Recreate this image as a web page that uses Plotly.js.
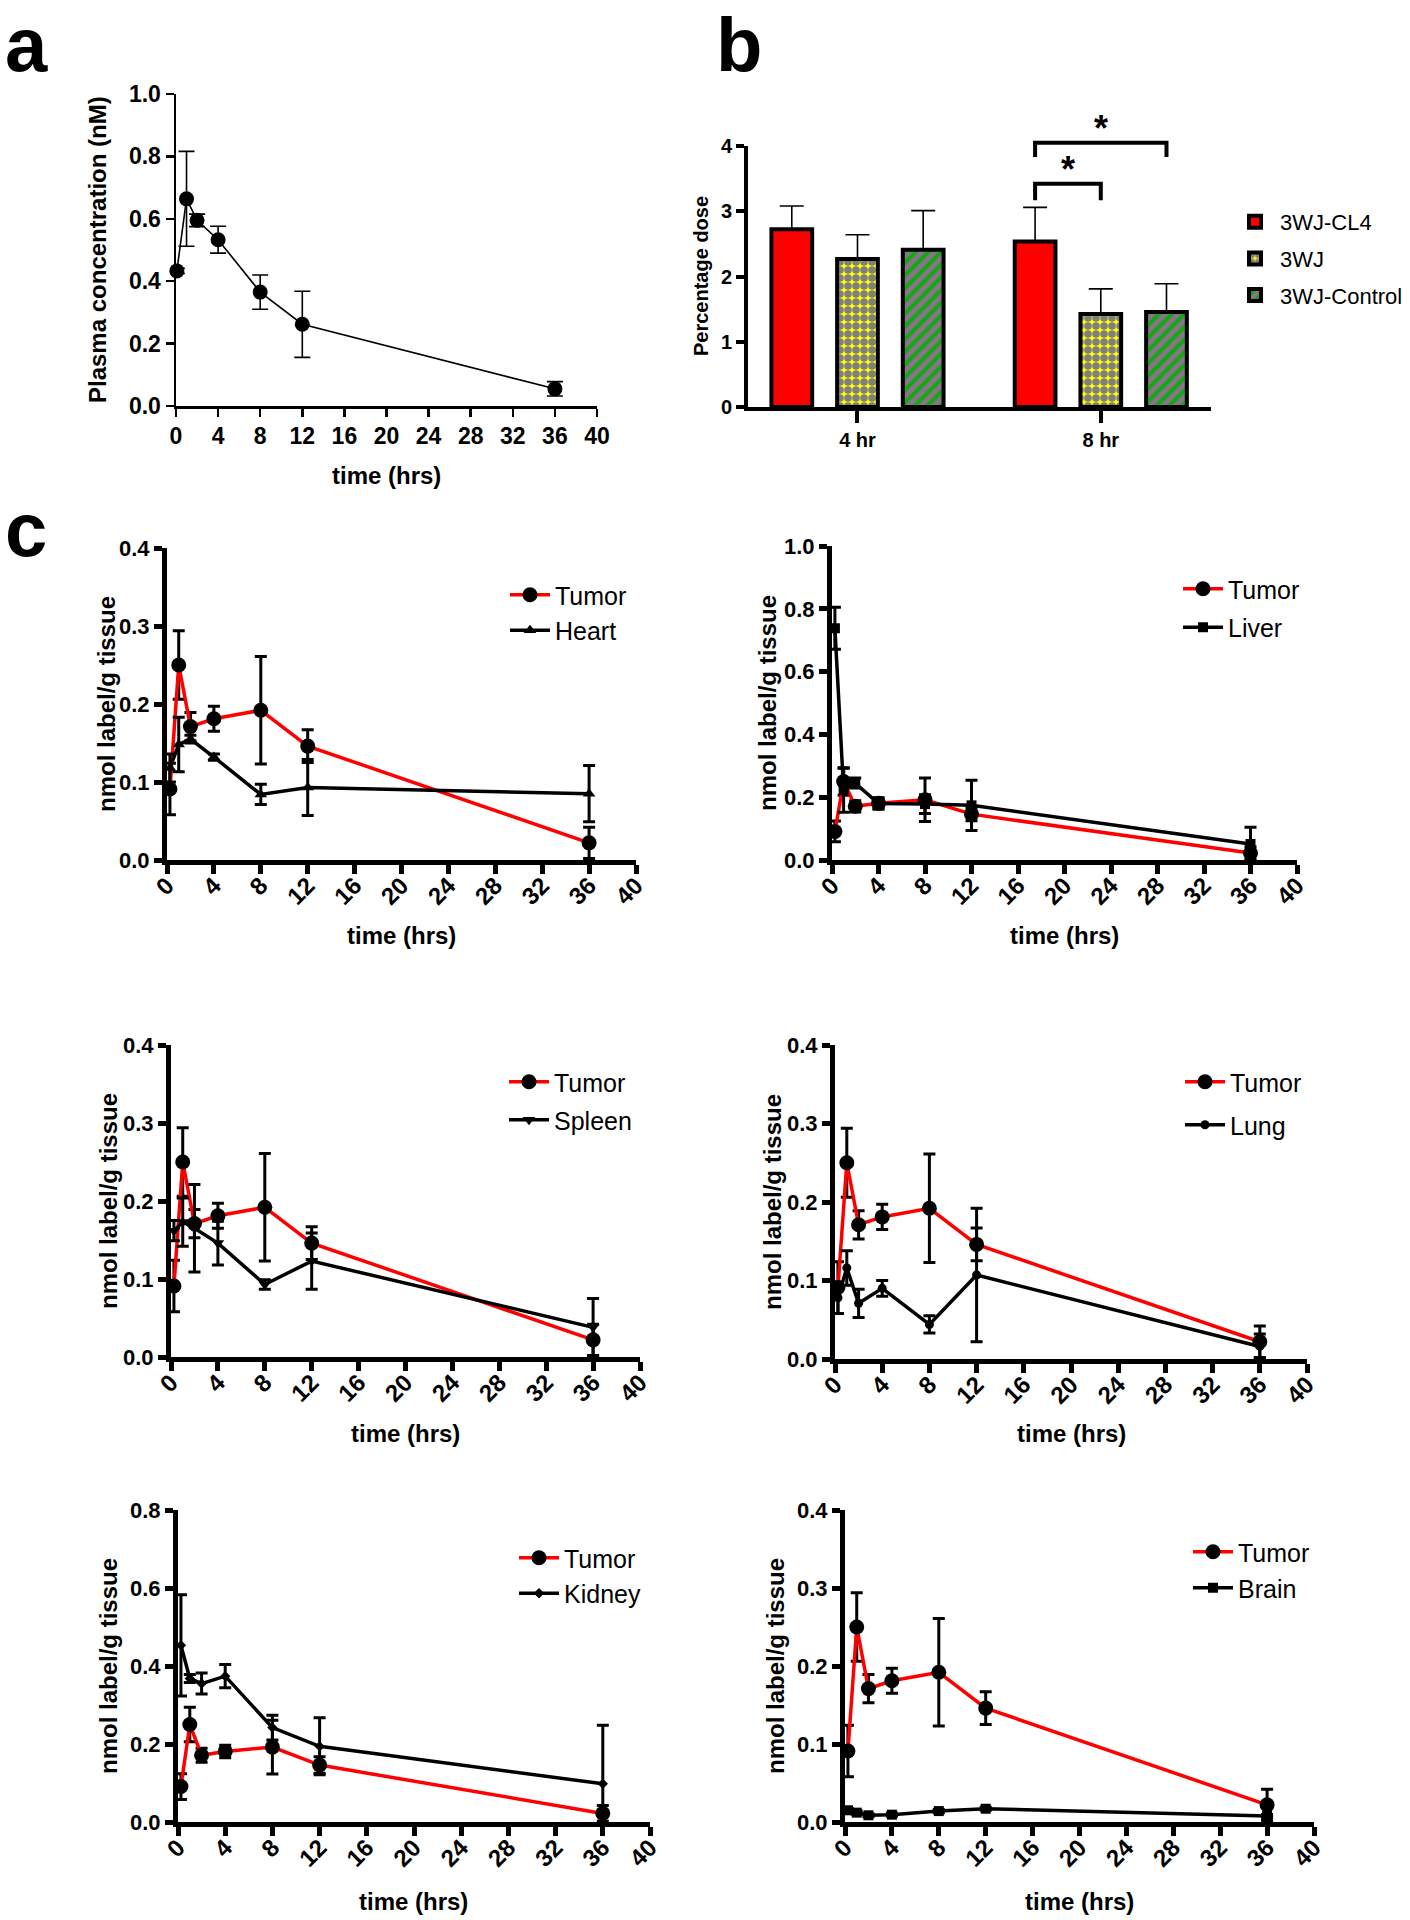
<!DOCTYPE html>
<html>
<head>
<meta charset="utf-8">
<script src="https://cdn.plot.ly/plotly-3.0.1.min.js"></script>
<style>html,body{margin:0;padding:0;background:#fff;}</style>
</head>
<body>
<div id="chart" style="width:1410px;height:1920px;"></div>
<script>
// ---------------- DATA ----------------
// Panel a: plasma concentration
const plasmaTime = [0.083, 1, 2, 4, 8, 12, 36];
const plasmaConc = [0.433, 0.664, 0.595, 0.533, 0.365, 0.262, 0.055];
const plasmaErr  = [0.008, 0.152, 0.020, 0.043, 0.055, 0.106, 0.023];

// Panel b: percentage dose
const timeGroups = ['4 hr', '8 hr'];
const seriesNames = ['3WJ-CL4', '3WJ', '3WJ-Control'];
const cl4Dose  = [2.725, 2.535];
const cl4Err   = [0.355, 0.525];
const wjDose   = [2.27, 1.424];
const wjErr    = [0.37, 0.386];
const ctrlDose = [2.41, 1.455];
const ctrlErr  = [0.60, 0.435];
// significance brackets (8 hr group)
const sigGroup = ['8 hr', '8 hr'];
const sigFrom  = ['3WJ-CL4', '3WJ-CL4'];
const sigTo    = ['3WJ', '3WJ-Control'];
const sigTop   = [3.42, 4.05];
const sigLeg   = [3.17, 3.83];
const sigText  = ['*', '*'];

// Panel c: tissue distribution
const tissueTime = [0.25, 1, 2, 4, 8, 12, 36];
const tumor    = [0.091, 0.250, 0.171, 0.181, 0.192, 0.146, 0.022];
const tumorErr = [0.033, 0.044, 0.018, 0.016, 0.069, 0.021, 0.020];
const heart    = [0.118, 0.148, 0.155, 0.132, 0.084, 0.093, 0.085];
const heartErr = [0.018, 0.035, 0.005, 0.004, 0.013, 0.036, 0.036];
const liver    = [0.738, 0.222, 0.245, 0.180, 0.178, 0.174, 0.051];
const liverErr = [0.067, 0.070, 0.016, 0.018, 0.030, 0.080, 0.053];
const spleen    = [0.162, 0.173, 0.165, 0.146, 0.093, 0.123, 0.038];
const spleenErr = [0.013, 0.031, 0.056, 0.028, 0.006, 0.036, 0.037];
const lung    = [0.078, 0.116, 0.071, 0.090, 0.044, 0.107, 0.016];
const lungErr = [0.020, 0.022, 0.018, 0.010, 0.011, 0.085, 0.016];
const kidney    = [0.453, 0.368, 0.355, 0.374, 0.242, 0.194, 0.098];
const kidneyErr = [0.130, 0.010, 0.027, 0.030, 0.032, 0.073, 0.150];
const brain    = [0.015, 0.012, 0.0086, 0.0094, 0.014, 0.017, 0.0077];
const brainErr = [0.002, 0.002, 0.002, 0.002, 0.002, 0.002, 0.002];

const timeTicks = [0, 4, 8, 12, 16, 20, 24, 28, 32, 36, 40];
const doseTicks = [0, 1, 2, 3, 4];

// ---------------- LAYOUT HELPERS ----------------
const W = 1410, H = 1920;
const FONT = 'Liberation Sans, Arial, Helvetica, sans-serif';
function xd(a, b) { return [a / W, b / W]; }
function yd(top, bot) { return [1 - bot / H, 1 - top / H]; }

function timeAxis(px0, px1, anchor, lw, fs, angle) {
  return {
    domain: xd(px0, px1), anchor: anchor, range: [0, 40],
    tickmode: 'array', tickvals: timeTicks, ticktext: timeTicks.map(String),
    showline: true, linewidth: lw, linecolor: 'black',
    ticks: 'outside', ticklen: 8, tickwidth: lw, tickcolor: 'black',
    showgrid: false, zeroline: false, tickangle: angle,
    tickfont: {family: FONT, size: fs, weight: 'bold', color: 'black'},
    fixedrange: true
  };
}
function valAxis(top, bot, anchor, max, step, lw, fs) {
  return {
    domain: yd(top, bot), anchor: anchor, range: [0, max],
    tick0: 0, dtick: step, tickformat: '.1f',
    showline: true, linewidth: lw, linecolor: 'black',
    ticks: 'outside', ticklen: 8, tickwidth: lw, tickcolor: 'black',
    showgrid: false, zeroline: false,
    tickfont: {family: FONT, size: fs, weight: 'bold', color: 'black'},
    fixedrange: true
  };
}
function ann(text, xpx, ypx, size, extra) {
  return Object.assign({
    text: text, x: xpx / W, y: 1 - ypx / H, xref: 'paper', yref: 'paper',
    showarrow: false, xanchor: 'center', yanchor: 'middle',
    font: {family: FONT, size: size, color: 'black', weight: 'bold'}
  }, extra || {});
}

const traces = [];
const layout = {
  width: W, height: H, margin: {l: 0, r: 0, t: 0, b: 0},
  paper_bgcolor: 'white', plot_bgcolor: 'white',
  font: {family: FONT, color: 'black'},
  barmode: 'group', bargap: 0.19, bargroupgap: 0.38,
  annotations: [], shapes: []
};

// ---------------- PANEL A ----------------
traces.push({
  type: 'scatter', mode: 'lines+markers', x: plasmaTime, y: plasmaConc,
  xaxis: 'x', yaxis: 'y', showlegend: false, cliponaxis: false,
  line: {color: 'black', width: 1.6},
  marker: {symbol: 'circle', size: 15, color: 'black'},
  error_y: {type: 'data', array: plasmaErr, visible: true, color: 'black', thickness: 1.6, width: 8}
});
layout.xaxis = timeAxis(176, 597, 'y', 2.5, 23, 0);
layout.yaxis = valAxis(94, 406, 'x', 1.0, 0.2, 2.5, 23);
layout.annotations.push(ann('Plasma concentration (nM)', 97, 250, 24, {textangle: -90}));
layout.annotations.push(ann('time (hrs)', 386, 475, 24));

// ---------------- PANEL B ----------------
const barSeries = [
  {name: seriesNames[0], y: cl4Dose, err: cl4Err,
   marker: {color: '#ff0000', line: {color: 'black', width: 4}}},
  {name: seriesNames[1], y: wjDose, err: wjErr,
   marker: {color: '#ffff00', line: {color: 'black', width: 4},
            pattern: {shape: '.', fgcolor: '#0000ff', bgcolor: '#ffff00', fillmode: 'overlay', size: 8, solidity: 0.7}}},
  {name: seriesNames[2], y: ctrlDose, err: ctrlErr,
   marker: {color: '#12a812', line: {color: 'black', width: 4},
            pattern: {shape: '/', fgcolor: '#ff40ff', bgcolor: '#12a812', fillmode: 'overlay', size: 9, solidity: 0.55}}}
];
barSeries.forEach(function (s, i) {
  traces.push({
    type: 'bar', name: s.name, x: timeGroups, y: s.y, xaxis: 'x2', yaxis: 'y2',
    marker: s.marker, legend: 'legend', legendgroup: 'b' + i,
    error_y: {type: 'data', symmetric: false, array: s.err, arrayminus: s.y.map(function () { return 0; }),
              visible: true, color: 'black', thickness: 1.6, width: 12}
  });
});
const bDom = yd(146, 407);
layout.xaxis2 = {
  domain: xd(748, 1211), anchor: 'y2', type: 'category', range: [-0.45, 1.453],
  showline: true, linewidth: 4, linecolor: 'black', ticks: 'outside', ticklen: 12, tickwidth: 4, tickcolor: 'black',
  showgrid: false, zeroline: false, tickfont: {family: FONT, size: 20, weight: 'bold', color: 'black'}, fixedrange: true
};
layout.yaxis2 = {
  domain: bDom, anchor: 'x2', range: [0, 4], tickmode: 'array', tickvals: doseTicks,
  showline: true, linewidth: 4, linecolor: 'black', ticks: 'outside', ticklen: 8, tickwidth: 4, tickcolor: 'black',
  showgrid: false, zeroline: false, tickfont: {family: FONT, size: 20, weight: 'bold', color: 'black'}, fixedrange: true
};
layout.annotations.push(ann('Percentage dose', 701, 276, 20, {textangle: -90}));
layout.legend = {
  x: (1280 - 50) / W, xanchor: 'left', y: 1 - (222 - 21) / H, yanchor: 'top',
  bgcolor: 'rgba(0,0,0,0)', borderwidth: 0, itemwidth: 40,
  font: {family: FONT, size: 22, color: 'black'}, traceorder: 'grouped', tracegroupgap: 5
};
// significance brackets
function barCenter(group, series) {
  const gi = timeGroups.indexOf(group);
  const si = seriesNames.indexOf(series);
  const slot = (1 - layout.bargap) / seriesNames.length;
  return gi + (si - (seriesNames.length - 1) / 2) * slot;
}
const yMaxB = layout.yaxis2.range[1];
sigFrom.forEach(function (f, k) {
  const x1 = barCenter(sigGroup[k], f), x2 = barCenter(sigGroup[k], sigTo[k]);
  const t = sigTop[k] / yMaxB, l = sigLeg[k] / yMaxB;
  layout.shapes.push({
    type: 'path', xref: 'x2', yref: 'y2 domain',
    path: 'M' + x1 + ',' + l + ' L' + x1 + ',' + t + ' L' + x2 + ',' + t + ' L' + x2 + ',' + l,
    line: {color: 'black', width: 4}
  });
  layout.annotations.push({
    text: sigText[k], x: (x1 + x2) / 2, xref: 'x2',
    y: bDom[0] + t * (bDom[1] - bDom[0]), yref: 'paper',
    showarrow: false, xanchor: 'center', yanchor: 'bottom', yshift: -8,
    font: {family: FONT, size: 36, color: 'black', weight: 'bold'}
  });
});

// ---------------- PANEL C ----------------
const organs = [
  {name: 'Heart',  vals: heart,  err: heartErr,  symbol: 'triangle-up',   size: 11, max: 0.4, step: 0.1,
   xpx: [167, 636], ypx: [548, 860], ytitle: 106, xtitle: 935, leg: [555, 595, 0]},
  {name: 'Liver',  vals: liver,  err: liverErr,  symbol: 'square',        size: 10, max: 1.0, step: 0.2,
   xpx: [832, 1297], ypx: [546, 860], ytitle: 767, xtitle: 935, leg: [1228, 589, 3]},
  {name: 'Spleen', vals: spleen, err: spleenErr, symbol: 'triangle-down', size: 11, max: 0.4, step: 0.1,
   xpx: [171, 640], ypx: [1045, 1357], ytitle: 108, xtitle: 1433, leg: [554, 1082, 2.5]},
  {name: 'Lung',   vals: lung,   err: lungErr,   symbol: 'circle',        size: 9,  max: 0.4, step: 0.1,
   xpx: [835, 1307], ypx: [1045, 1359], ytitle: 772, xtitle: 1433, leg: [1230, 1082, 7.5]},
  {name: 'Kidney', vals: kidney, err: kidneyErr, symbol: 'diamond',       size: 8,  max: 0.8, step: 0.2,
   xpx: [178, 650], ypx: [1510, 1822], ytitle: 108, xtitle: 1901, leg: [564, 1558, 0]},
  {name: 'Brain',  vals: brain,  err: brainErr,  symbol: 'square',        size: 10, max: 0.4, step: 0.1,
   xpx: [845, 1314], ypx: [1510, 1822], ytitle: 775, xtitle: 1901, leg: [1238, 1552, 0.5]}
];
organs.forEach(function (o, i) {
  const n = i + 3;
  const xa = 'x' + n, ya = 'y' + n, lg = 'legend' + (i + 2);
  traces.push({
    type: 'scatter', mode: 'lines+markers', name: 'Tumor', x: tissueTime, y: tumor,
    xaxis: xa, yaxis: ya, legend: lg, legendgroup: 't' + n, cliponaxis: false,
    line: {color: '#ff0000', width: 3.5},
    marker: {symbol: 'circle', size: 15, color: 'black'},
    error_y: {type: 'data', array: tumorErr, visible: true, color: 'black', thickness: 3, width: 6}
  });
  traces.push({
    type: 'scatter', mode: 'lines+markers', name: o.name, x: tissueTime, y: o.vals,
    xaxis: xa, yaxis: ya, legend: lg, legendgroup: 'o' + n, cliponaxis: false,
    line: {color: 'black', width: 3.5},
    marker: {symbol: o.symbol, size: o.size, color: 'black'},
    error_y: {type: 'data', array: o.err, visible: true, color: 'black', thickness: 3, width: 6}
  });
  layout['xaxis' + n] = timeAxis(o.xpx[0], o.xpx[1], ya, 5, 24, -45);
  layout['xaxis' + n].ticklen = 9;
  layout['xaxis' + n].ticklabelstandoff = -12;
  layout['yaxis' + n] = valAxis(o.ypx[0], o.ypx[1], xa, o.max, o.step, 5, 22);
  layout.annotations.push(ann('nmol label/g tissue', o.ytitle, (o.ypx[0] + o.ypx[1]) / 2, 24, {textangle: -90}));
  layout.annotations.push(ann('time (hrs)', (o.xpx[0] + o.xpx[1]) / 2, o.xtitle, 24));
  layout[lg] = {
    x: (o.leg[0] - 50) / W, xanchor: 'left', y: 1 - (o.leg[1] - 23) / H, yanchor: 'top',
    bgcolor: 'rgba(0,0,0,0)', borderwidth: 0, itemwidth: 40,
    font: {family: FONT, size: 25, color: 'black'}, traceorder: 'grouped', tracegroupgap: o.leg[2]
  };
});

// ---------------- PANEL LETTERS ----------------
layout.annotations.push(ann('a', 3, 0, 76, {xanchor: 'left', yanchor: 'top', y: 1}));
layout.annotations.push(ann('b', 714, 0, 76, {xanchor: 'left', yanchor: 'top', y: 1}));
layout.annotations.push(ann('c', 3, 574, 76, {xanchor: 'left', yanchor: 'bottom'}));

Plotly.newPlot('chart', traces, layout, {staticPlot: true, displayModeBar: false});
</script>
</body>
</html>
